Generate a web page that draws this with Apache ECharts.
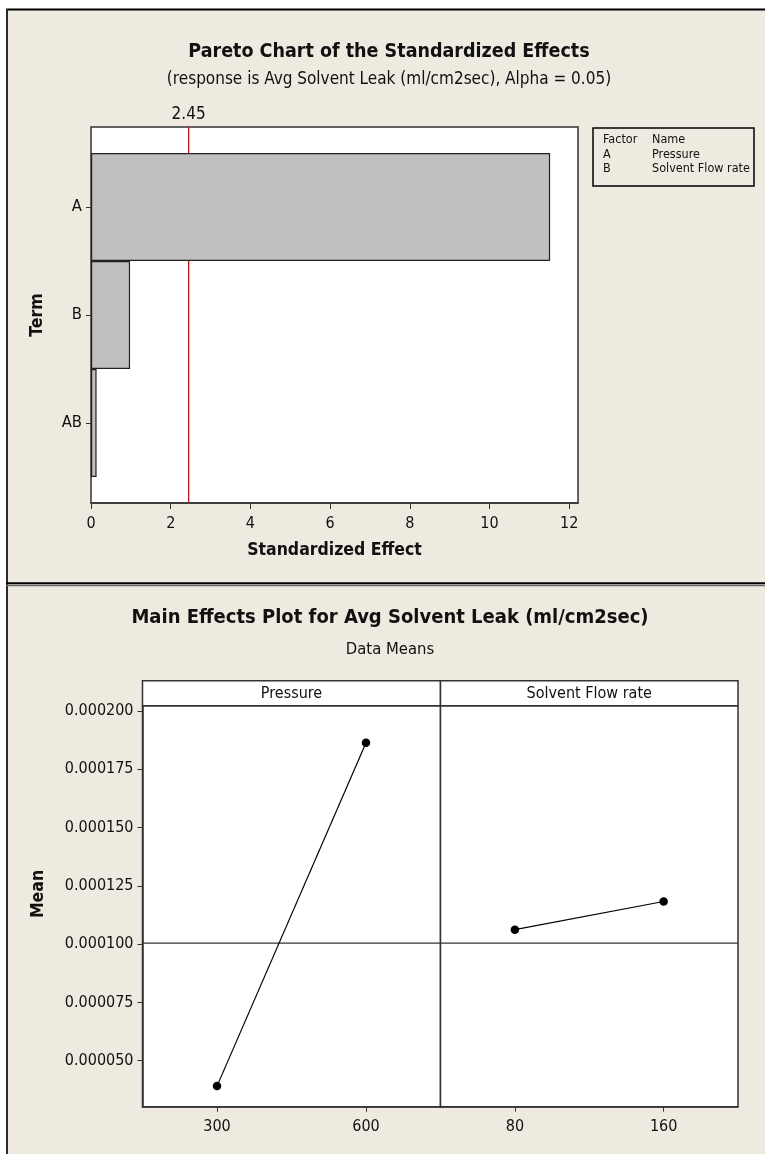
<!DOCTYPE html>
<html>
<head>
<meta charset="utf-8">
<script src="https://cdn.jsdelivr.net/npm/echarts@6/dist/echarts.min.js"></script>
<style>
  html, body { margin: 0; padding: 0; background: #fff; }
  #chart { width: 765px; height: 1154px; }
</style>
</head>
<body>
<div id="chart"></div>
<script>
// ---- Pareto chart of standardized effects ----
const terms = ['A', 'B', 'AB'];
const effects = [11.52, 0.98, 0.14];
const alphaCritical = 2.45;
const factorCodes = ['A', 'B'];
const factorNames = ['Pressure', 'Solvent Flow rate'];

// ---- Main effects (data means) ----
const pressureLevels = [300, 600];
const pressureMeans = [0.0000391, 0.0001864];
const flowLevels = [80, 160];
const flowMeans = [0.0001062, 0.0001183];
const grandMean = 0.0001004;
const meanTicks = [0.00005, 0.000075, 0.0001, 0.000125, 0.00015, 0.000175, 0.0002];

const FONT = "'DejaVu Sans Condensed', 'DejaVu Sans', sans-serif";
const INK = '#111';
const FRAME = '#333';
const BG = '#EEEAE0';
const TICK_SIZE = 16;
const NAME_SIZE = 17.5;

const effectMax = 12.22;
const meanMin = 0.00003027, meanMax = 0.00020227;
const pressureRange = [150, 750];
const flowRange = [40, 200];

// panel geometry for the main effects plot
const ME = { top: 705.7, height: 401, left: 142.5, mid: 440.5, right: 738, stripTop: 680.7 };

function levelAxis(gridIndex, range, levels) {
  return {
    type: 'value', gridIndex, min: range[0], max: range[1],
    axisLine: { show: true, lineStyle: { color: FRAME, width: 1.5 } },
    axisTick: { show: true, inside: false, length: 5, customValues: levels, lineStyle: { color: FRAME } },
    axisLabel: { customValues: levels, color: INK, fontFamily: FONT, fontSize: TICK_SIZE, margin: 12 },
    splitLine: { show: false }
  };
}

function meanSeries(xi, yi, levels, means) {
  return {
    type: 'line', xAxisIndex: xi, yAxisIndex: yi, silent: true,
    data: levels.map((l, i) => [l, means[i]]),
    symbol: 'circle', symbolSize: 8.5,
    itemStyle: { color: '#000' },
    lineStyle: { color: '#000', width: 1.2 },
    z: 3
  };
}

// horizontal reference line at the overall mean, across a whole panel
function grandMeanSeries(xi, yi, range) {
  return {
    type: 'line', xAxisIndex: xi, yAxisIndex: yi, silent: true,
    data: [[range[0], grandMean], [range[1], grandMean]],
    symbol: 'none', lineStyle: { color: '#333', width: 1.2 }, z: 2
  };
}

const legendRows = [['Factor', 'Name']].concat(factorCodes.map((c, i) => [c, factorNames[i]]));
const legendTexts = [];
legendRows.forEach((row, i) => {
  const y = 140 + i * 14.5;
  legendTexts.push({ type: 'text', x: 603, y, style: { text: row[0], font: '12.5px ' + FONT, fill: INK, textVerticalAlign: 'middle' } });
  legendTexts.push({ type: 'text', x: 652, y, style: { text: row[1], font: '12.5px ' + FONT, fill: INK, textVerticalAlign: 'middle' } });
});

const stripLabels = [
  { text: factorNames[0], x0: ME.left, x1: ME.mid },
  { text: factorNames[1], x0: ME.mid, x1: ME.right }
];
const stripGraphics = [];
stripLabels.forEach(s => {
  stripGraphics.push({ type: 'rect', shape: { x: s.x0, y: ME.stripTop, width: s.x1 - s.x0, height: ME.top - ME.stripTop },
    style: { fill: '#fff', stroke: FRAME, lineWidth: 1.5 } });
  stripGraphics.push({ type: 'text', x: (s.x0 + s.x1) / 2, y: (ME.stripTop + ME.top) / 2 + 0.5,
    style: { text: s.text, font: '16px ' + FONT, fill: INK, textAlign: 'center', textVerticalAlign: 'middle' } });
});

const chart = echarts.init(document.getElementById('chart'), null, { renderer: 'canvas' });
chart.setOption({
  animation: false,
  backgroundColor: BG,
  grid: [
    { left: 91, top: 127, width: 487, height: 376, show: true, backgroundColor: '#fff', borderColor: FRAME, borderWidth: 1.5 },
    { left: 91, top: 153, width: 487, height: 324 },
    { left: ME.left, top: ME.top, width: ME.mid - ME.left, height: ME.height, show: true, backgroundColor: '#fff', borderColor: FRAME, borderWidth: 1.5 },
    { left: ME.mid, top: ME.top, width: ME.right - ME.mid, height: ME.height, show: true, backgroundColor: '#fff', borderColor: FRAME, borderWidth: 1.5 }
  ],
  xAxis: [
    {
      type: 'value', gridIndex: 0, min: 0, max: effectMax, interval: 2,
      axisLine: { show: true, lineStyle: { color: FRAME, width: 1.5 } },
      axisTick: { show: true, inside: false, length: 6, lineStyle: { color: FRAME } },
      axisLabel: { color: INK, fontFamily: FONT, fontSize: TICK_SIZE, margin: 13, showMaxLabel: false },
      splitLine: { show: false },
      name: 'Standardized Effect', nameLocation: 'middle', nameGap: 38,
      nameTextStyle: { color: INK, fontFamily: FONT, fontSize: NAME_SIZE, fontWeight: 'bold' }
    },
    { type: 'value', gridIndex: 1, min: 0, max: effectMax, show: false },
    {
      type: 'value', gridIndex: 0, position: 'top', min: 0, max: effectMax,
      axisLine: { show: false }, axisTick: { show: false }, splitLine: { show: false },
      axisLabel: { customValues: [alphaCritical], formatter: v => v.toFixed(2), color: INK, fontFamily: FONT, fontSize: 17, margin: 4 }
    },
    levelAxis(2, pressureRange, pressureLevels),
    levelAxis(3, flowRange, flowLevels)
  ],
  yAxis: [
    { type: 'value', gridIndex: 0, min: 0, max: 1, show: false },
    {
      type: 'category', gridIndex: 1, data: terms, inverse: true,
      axisLine: { show: false },
      axisTick: { show: true, alignWithLabel: true, length: 5, lineStyle: { color: FRAME } },
      axisLabel: { color: INK, fontFamily: FONT, fontSize: 16.5, margin: 9 },
      name: 'Term', nameLocation: 'middle', nameRotate: 90, nameGap: 45,
      nameTextStyle: { color: INK, fontFamily: FONT, fontSize: NAME_SIZE, fontWeight: 'bold' }
    },
    {
      type: 'value', gridIndex: 2, min: meanMin, max: meanMax,
      axisLine: { show: true, lineStyle: { color: FRAME, width: 1.5 } },
      axisTick: { show: true, inside: false, length: 5, customValues: meanTicks, lineStyle: { color: FRAME } },
      axisLabel: { customValues: meanTicks, formatter: v => v.toFixed(6), color: INK, fontFamily: FONT, fontSize: TICK_SIZE, margin: 9 },
      splitLine: { show: false }
    },
    { type: 'value', gridIndex: 3, min: meanMin, max: meanMax, show: false }
  ],
  series: [
    {
      // critical t value reference line
      type: 'line', xAxisIndex: 0, yAxisIndex: 0, silent: true,
      data: [[alphaCritical, 0], [alphaCritical, 1]],
      symbol: 'none', lineStyle: { color: '#EE0000', width: 1.3 }, z: 1
    },
    {
      type: 'bar', xAxisIndex: 1, yAxisIndex: 1, silent: true,
      data: effects, barCategoryGap: '0%',
      itemStyle: { color: '#C0C0C0', borderColor: '#222', borderWidth: 1.2 },
      z: 2
    },
    grandMeanSeries(3, 2, pressureRange),
    grandMeanSeries(4, 3, flowRange),
    meanSeries(3, 2, pressureLevels, pressureMeans),
    meanSeries(4, 3, flowLevels, flowMeans)
  ],
  graphic: [
    // white margin outside the panels and panel borders
    { type: 'rect', shape: { x: 0, y: 0, width: 765, height: 9 }, style: { fill: '#fff' } },
    { type: 'rect', shape: { x: 0, y: 0, width: 6, height: 1154 }, style: { fill: '#fff' } },
    { type: 'line', shape: { x1: 6, y1: 9.5, x2: 765, y2: 9.5 }, style: { stroke: '#000', lineWidth: 2 } },
    { type: 'line', shape: { x1: 7, y1: 9, x2: 7, y2: 1154 }, style: { stroke: '#2a2a2a', lineWidth: 2 } },
    { type: 'line', shape: { x1: 6, y1: 583.3, x2: 765, y2: 583.3 }, style: { stroke: '#000', lineWidth: 2 } },
    { type: 'line', shape: { x1: 6, y1: 585.6, x2: 765, y2: 585.6 }, style: { stroke: '#666', lineWidth: 1.5 } },
    // titles
    { type: 'text', x: 389, y: 52, style: { text: 'Pareto Chart of the Standardized Effects', font: 'bold 19.5px ' + FONT, fill: INK, textAlign: 'center', textVerticalAlign: 'middle' } },
    { type: 'text', x: 389, y: 80, style: { text: '(response is Avg Solvent Leak (ml/cm2sec), Alpha = 0.05)', font: '17px ' + FONT, fill: INK, textAlign: 'center', textVerticalAlign: 'middle' } },
    { type: 'text', x: 390, y: 618, style: { text: 'Main Effects Plot for Avg Solvent Leak (ml/cm2sec)', font: 'bold 20px ' + FONT, fill: INK, textAlign: 'center', textVerticalAlign: 'middle' } },
    { type: 'text', x: 390, y: 650, style: { text: 'Data Means', font: '16.5px ' + FONT, fill: INK, textAlign: 'center', textVerticalAlign: 'middle' } },
    { type: 'text', x: 38, y: 894, rotation: Math.PI / 2, style: { text: 'Mean', font: 'bold ' + NAME_SIZE + 'px ' + FONT, fill: INK, textAlign: 'center', textVerticalAlign: 'middle' } },
    // factor table
    { type: 'rect', shape: { x: 593, y: 128, width: 161, height: 58 }, style: { fill: 'none', stroke: '#000', lineWidth: 1.5 } },
    ...legendTexts,
    ...stripGraphics
  ]
});
</script>
</body>
</html>
